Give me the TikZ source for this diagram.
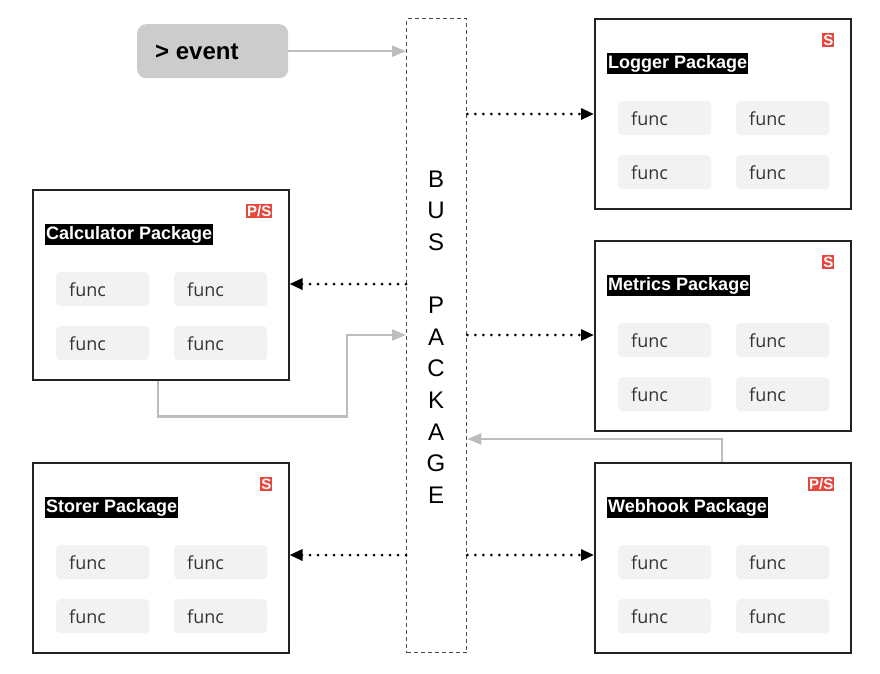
\documentclass[tikz,border=0pt]{standalone}
\usepackage{fontspec}
\setmainfont{Liberation Sans}
\newfontfamily\funcfont{Open Sans}
\usetikzlibrary{arrows.meta,calc}
\definecolor{boxline}{HTML}{222222}
\definecolor{funcfill}{HTML}{F2F2F2}
\definecolor{badgered}{HTML}{E8453C}
\definecolor{greyline}{HTML}{BDBDBD}
\definecolor{eventfill}{HTML}{CCCCCC}
\tikzset{
  pkgbox/.style={draw=boxline, line width=1.5pt, fill=white},
  funcbox/.style={fill=funcfill, rounded corners=4pt, anchor=north west, minimum height=34pt,
    text width=67pt, inner xsep=13pt, align=left, font=\funcfont\fontsize{18}{18}\selectfont, text=black!80},
  titlebox/.style={fill=black, text=white, anchor=west, inner xsep=1pt, inner ysep=2.5pt,
    font=\bfseries\fontsize{18}{18}\selectfont},
  badge/.style={fill=badgered, text=white, anchor=north east, inner xsep=1pt, inner ysep=1.5pt,
    font=\bfseries\fontsize{15}{15}\selectfont},
  dotarrow/.style={line width=3pt, dash pattern=on 0pt off 8pt, line cap=round, -{Triangle[length=13pt,width=11pt]}},
  greyarrow/.style={draw=greyline, line width=2.2pt, -{Triangle[length=14pt,width=11pt,fill=greyline]}},
}
\newcommand{\pkgdraw}[5]{% name, left x, top y, title, badge
  \node[pkgbox, anchor=north west, minimum width=256pt, minimum height=190pt, inner sep=0pt] (#1) at (#2,#3) {};
  \node[titlebox] (#1-title) at ($(#1.north west)+(13,45.5)$) {#4};
  \node[badge] (#1-badge) at ($(#1.north east)+(-17,15)$) {#5};
  \node[funcbox] (#1-f1) at ($(#1.north west)+(24,83)$) {func};
  \node[funcbox] (#1-f2) at ($(#1.north west)+(142,83)$) {func};
  \node[funcbox] (#1-f3) at ($(#1.north west)+(24,137)$) {func};
  \node[funcbox] (#1-f4) at ($(#1.north west)+(142,137)$) {func};
}
\begin{document}
\begin{tikzpicture}[x=1pt,y=-1pt]
\useasboundingbox (0,0) rectangle (880,673);
% bus
\node[draw=black!70, dash pattern=on 4pt off 3pt, line width=1.3pt, anchor=north west, minimum width=60pt, minimum height=634pt, inner sep=0pt] (bus) at (406,18) {};
\node[align=center, font=\fontsize{24}{31.6}\selectfont, inner sep=0pt] (bustext) at (436,337) {B\\U\\S\\[31.6pt]P\\A\\C\\K\\A\\G\\E};
% event
\node[fill=eventfill, rounded corners=9pt, anchor=north west, minimum width=151pt, minimum height=54pt, inner sep=0pt] (event) at (137,24) {};
\node[anchor=west, font=\bfseries\fontsize{24}{24}\selectfont, inner sep=0pt] (eventtext) at (155,52) {> event};
% packages
\pkgdraw{logger}{594}{18}{Logger Package}{S}
\pkgdraw{metrics}{594}{240}{Metrics Package}{S}
\pkgdraw{webhook}{594}{462}{Webhook Package}{P/S}
\pkgdraw{calc}{32}{189}{Calculator Package}{P/S}
\pkgdraw{storer}{32}{462}{Storer Package}{S}
% arrows from bus
\draw[dotarrow] ($(bus.north east)+(0,96)$) coordinate (b1) -- (b1 -| logger.west);
\draw[dotarrow] ($(bus.north east)+(0,317)$) coordinate (b2) -- (b2 -| metrics.west);
\draw[dotarrow] ($(bus.north east)+(0,537)$) coordinate (b3) -- (b3 -| webhook.west);
\draw[dotarrow] ($(bus.north west)+(0,266)$) coordinate (b4) -- (b4 -| calc.east);
\draw[dotarrow] ($(bus.north west)+(0,537)$) coordinate (b5) -- (b5 -| storer.east);
% grey arrows
\draw[greyarrow] (event.east) -- (event.east -| bus.west);
\coordinate (c1) at ($(calc.south west)+(126,0)$);
\draw[greyarrow] (c1) -- ++(0,36) -| (347,335) -- (bus.west |- 0,335);
\coordinate (w1) at ($(webhook.north west)+(128,0)$);
\draw[greyarrow] (w1) -- ++(0,-23) -- (bus.east |- 0,439);
\end{tikzpicture}
\end{document}
